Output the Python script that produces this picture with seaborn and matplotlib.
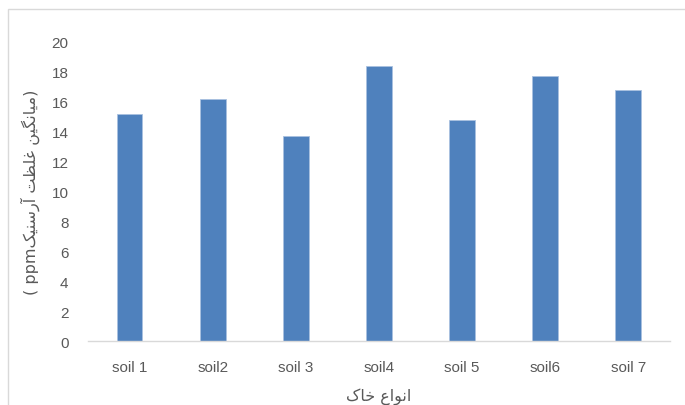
import matplotlib
matplotlib.use("Agg")
import matplotlib.pyplot as plt
from matplotlib.patches import Rectangle
import pandas as pd
import seaborn as sns

# Soil samples and mean arsenic concentration (ppm)
soils = ["soil 1", "soil2", "soil 3", "soil4", "soil 5", "soil6", "soil 7"]
arsenic_ppm = [15.2, 16.2, 13.7, 18.4, 14.8, 17.7, 16.8]
y_ticks = [0, 2, 4, 6, 8, 10, 12, 14, 16, 18, 20]

# Persian labels written with Arabic presentation forms in display order,
# since matplotlib does not shape or reorder right-to-left text itself.
word_mianegin = "\uFEE6\uFBFF\uFB95\uFEE7\uFE8E\uFBFF\uFEE3"   # میانگین
word_ghelzat = "\uFE96\uFEC8\uFEE0\uFECF"                       # غلظت
word_arsenik = "\uFB8F\uFBFF\uFEE8\uFEB3\uFEAD\uFE81"           # آرسنیک
word_anva = "\uFEC9\uFE8D\uFEEE\uFEE7\uFE8D"                    # انواع
word_khak = "\uFB8E\uFE8E\uFEA7"                                # خاک

x_title = word_khak + " " + word_anva
y_title = "( ppm" + word_arsenik + " " + word_ghelzat + " " + word_mianegin + ")"

sns.set_theme(style="white")
plt.rcParams["font.family"] = ["Liberation Sans", "DejaVu Sans"]

text_color = "#595959"
bar_color = "#4F81BD"

df = pd.DataFrame({"soil": soils, "arsenic": arsenic_ppm})

fig = plt.figure(figsize=(6.85, 4.06), dpi=100)
ax = fig.add_axes([0.1285, 0.1576, 0.8495, 0.7365])

sns.barplot(data=df, x="soil", y="arsenic", color=bar_color, saturation=1,
            width=0.31, edgecolor="#A9C1E0", linewidth=0.6, ax=ax)

ax.set_ylim(0, 20)
ax.set_xlim(-0.5, len(soils) - 0.5)
ax.set_yticks(y_ticks)
ax.set_yticklabels([str(t) for t in y_ticks])

for side in ["top", "right", "left"]:
    ax.spines[side].set_visible(False)
ax.spines["bottom"].set_color("#D9D9D9")
ax.spines["bottom"].set_linewidth(1.0)

ax.tick_params(axis="both", length=0, colors=text_color, labelsize=11)
ax.tick_params(axis="y", pad=14)
ax.tick_params(axis="x", pad=14)

ax.set_xlabel(x_title, fontsize=11.5, color=text_color, labelpad=9,
              family=["DejaVu Sans"])
ax.set_ylabel(y_title, fontsize=11.5, color=text_color, labelpad=8,
              family=["DejaVu Sans"])

# Light frame around the chart area
fig.patches.append(Rectangle((8 / 685, -0.05), 1.2, 1 - 10 / 406 + 0.05,
                             transform=fig.transFigure, fill=False,
                             edgecolor="#D9D9D9", linewidth=1.0))

fig.savefig("out.png", dpi=100)
